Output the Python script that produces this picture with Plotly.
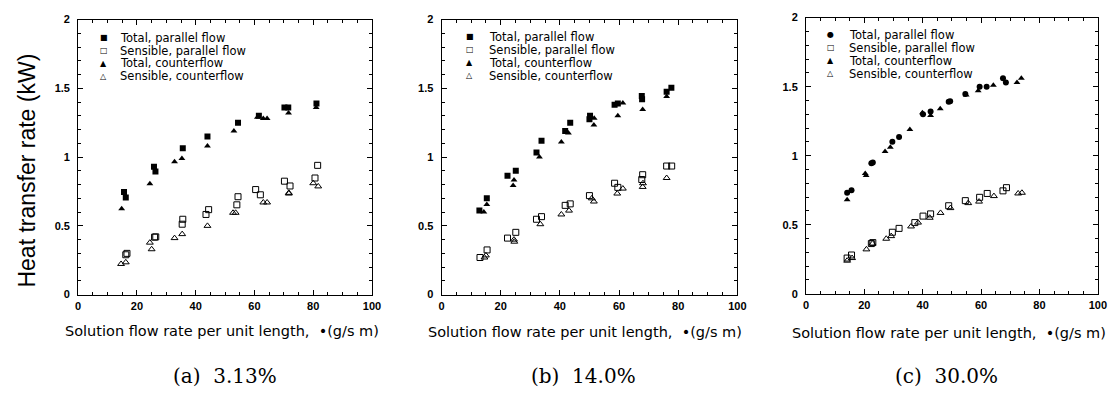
import plotly.graph_objects as go

W, H = 1118, 394

# ---------------- data ----------------
# (a) 3.13%
a_tp_x = [15.6, 16.2, 25.8, 26.3, 35.6, 44.0, 54.4, 61.5, 70.2, 71.5, 81.1]
a_tp_y = [0.747, 0.707, 0.93, 0.895, 1.065, 1.15, 1.25, 1.30, 1.36, 1.36, 1.39]
a_sp_x = [16.2, 16.6, 26.0, 26.4, 35.4, 35.6, 43.5, 44.4, 54.0, 54.4, 60.4, 62.0, 70.2, 72.1, 80.6, 81.5]
a_sp_y = [0.29, 0.30, 0.418, 0.42, 0.512, 0.548, 0.583, 0.618, 0.653, 0.712, 0.764, 0.726, 0.825, 0.79, 0.848, 0.94]
a_tc_x = [14.8, 24.4, 32.8, 35.3, 44.0, 53.0, 61.0, 63.0, 64.3, 71.6, 81.0]
a_tc_y = [0.625, 0.806, 0.966, 0.99, 1.08, 1.19, 1.29, 1.28, 1.28, 1.32, 1.36]
a_sc_x = [14.6, 16.2, 24.4, 25.0, 32.8, 35.4, 44.0, 52.7, 53.6, 63.0, 64.3, 71.7, 71.7, 80.0, 81.7]
a_sc_y = [0.223, 0.235, 0.378, 0.33, 0.411, 0.44, 0.50, 0.595, 0.595, 0.67, 0.67, 0.735, 0.74, 0.81, 0.787]

# (b) 14.0%
b_tp_x = [12.8, 15.3, 22.3, 25.1, 32.1, 33.8, 41.8, 43.5, 50.2, 50.0, 58.5, 59.6, 67.7, 67.8, 76.1, 77.7]
b_tp_y = [0.611, 0.70, 0.865, 0.90, 1.034, 1.119, 1.19, 1.25, 1.30, 1.276, 1.38, 1.39, 1.445, 1.42, 1.476, 1.504]
b_sp_x = [13.0, 15.4, 22.3, 25.1, 32.1, 33.8, 41.8, 43.5, 50.0, 58.5, 59.6, 68.0, 67.7, 76.1, 77.8]
b_sp_y = [0.27, 0.325, 0.411, 0.453, 0.548, 0.567, 0.649, 0.66, 0.72, 0.81, 0.78, 0.872, 0.837, 0.935, 0.935]
b_tc_x = [14.3, 15.3, 24.2, 24.5, 33.1, 40.5, 42.9, 51.5, 51.6, 59.6, 61.3, 68.0, 76.1]
b_tc_y = [0.60, 0.655, 0.794, 0.834, 1.00, 1.11, 1.175, 1.234, 1.283, 1.30, 1.394, 1.347, 1.44]
b_sc_x = [14.5, 15.0, 24.5, 24.6, 33.4, 40.5, 43.1, 51.5, 50.8, 59.4, 61.3, 68.0, 68.1, 76.1]
b_sc_y = [0.27, 0.285, 0.40, 0.385, 0.512, 0.583, 0.611, 0.677, 0.70, 0.735, 0.771, 0.783, 0.81, 0.848]

# (c) 30.0%
c_tp_x = [14.1, 15.6, 22.4, 22.9, 29.6, 31.9, 40.1, 42.7, 48.9, 49.4, 54.6, 59.5, 61.9, 67.5, 68.5]
c_tp_y = [0.731, 0.75, 0.944, 0.95, 1.10, 1.135, 1.30, 1.32, 1.39, 1.395, 1.447, 1.50, 1.50, 1.56, 1.53]
c_sp_x = [14.1, 15.6, 22.4, 22.9, 29.6, 31.9, 37.3, 40.1, 42.7, 48.9, 54.6, 59.5, 62.1, 67.5, 68.7]
c_sp_y = [0.258, 0.28, 0.363, 0.37, 0.445, 0.473, 0.515, 0.562, 0.578, 0.637, 0.674, 0.698, 0.726, 0.745, 0.768]
c_tc_x = [14.1, 20.3, 20.6, 27.1, 28.9, 35.6, 39.9, 42.7, 46.0, 54.9, 59.0, 64.2, 72.3, 73.8]
c_tc_y = [0.68, 0.87, 0.857, 1.03, 1.06, 1.19, 1.31, 1.29, 1.34, 1.44, 1.47, 1.51, 1.53, 1.56]
c_sc_x = [14.1, 15.8, 20.7, 22.8, 27.5, 29.2, 36.0, 38.4, 42.4, 46.1, 49.5, 55.6, 59.3, 64.4, 72.7, 74.0]
c_sc_y = [0.239, 0.258, 0.321, 0.363, 0.398, 0.417, 0.487, 0.515, 0.55, 0.585, 0.62, 0.656, 0.667, 0.707, 0.726, 0.731]

series_names = ["Total, parallel flow", "Sensible, parallel flow",
                "Total, counterflow", "Sensible, counterflow"]
captions = ["(a)  3.13%", "(b)  14.0%", "(c)  30.0%"]
x_title = "Solution flow rate per unit length,  \u2022(g/s m)"
y_title = "Heat transfer rate (kW)"
x_ticks = [0, 20, 40, 60, 80, 100]
y_ticks = [0, 0.5, 1, 1.5, 2]
y_ticktext = ["0", "0.5", "1", "1.5", "2"]

panels = [
    (a_tp_x, a_tp_y, a_sp_x, a_sp_y, a_tc_x, a_tc_y, a_sc_x, a_sc_y),
    (b_tp_x, b_tp_y, b_sp_x, b_sp_y, b_tc_x, b_tc_y, b_sc_x, b_sc_y),
    (c_tp_x, c_tp_y, c_sp_x, c_sp_y, c_tc_x, c_tc_y, c_sc_x, c_sc_y),
]

# ---------------- layout geometry (pixels) ----------------
x_px = [(76, 373), (443.3, 742.3), (811.7, 1106.7)]
y_px = [(14, 297.7), (14, 297.7), (12, 296.7)]
tp_symbol = ["square", "square", "circle"]
tp_glyph = ["\u25A0", "\u25A0", "\u25CF"]
ROW = 13.4
legend_pos = [(102, 116, 32.5), (471.7, 489, 31.5), (836.7, 852.7, 29.5)]
xtitle_pos = [(221, 335), (588, 336), (956, 337)]
caption_pos = [(224, 382), (587, 382), (954, 382)]

def px(x):
    return x / W

def py(y):
    return 1 - y / H

fig = go.Figure()
annotations = []

for i, p in enumerate(panels):
    xs = "x" if i == 0 else f"x{i+1}"
    ys = "y" if i == 0 else f"y{i+1}"
    tpx, tpy, spx, spy, tcx, tcy, scx, scy = p
    specs = [
        (tpx, tpy, dict(symbol=tp_symbol[i], size=6, color="black")),
        (spx, spy, dict(symbol="square-open", size=6, color="black", line=dict(width=1))),
        (tcx, tcy, dict(symbol="triangle-up", size=6, color="black")),
        (scx, scy, dict(symbol="triangle-up-open", size=6, color="black", line=dict(width=1))),
    ]
    for (xx, yy, mk), name in zip(specs, series_names):
        fig.add_trace(go.Scatter(x=xx, y=yy, mode="markers", marker=mk, name=name,
                                 xaxis=xs, yaxis=ys, showlegend=False))

    axkey = "xaxis" if i == 0 else f"xaxis{i+1}"
    aykey = "yaxis" if i == 0 else f"yaxis{i+1}"
    common = dict(showline=True, linecolor="black", linewidth=1, mirror="allticks",
                  ticks="inside", ticklen=5, tickwidth=1, tickcolor="black",
                  showgrid=False, zeroline=False,
                  tickfont=dict(family="Liberation Sans, Arial", size=11, color="black", weight="bold"))
    fig.layout[axkey] = dict(domain=[px(x_px[i][0]), px(x_px[i][1])], range=[0, 100],
                             anchor=ys, tickvals=x_ticks, ticklabelstandoff=1,
                             minor=dict(dtick=5, tick0=0, ticks="inside", ticklen=3, tickcolor="black", showgrid=False),
                             **common)
    fig.layout[aykey] = dict(domain=[py(y_px[i][1]), py(y_px[i][0])], range=[0, 2],
                             anchor=xs, tickvals=y_ticks, ticktext=y_ticktext, ticklabelstandoff=5,
                             minor=dict(dtick=0.1, tick0=0, ticks="inside", ticklen=3, tickcolor="black", showgrid=False),
                             **common)

    gx, tx, top = legend_pos[i]
    glyphs = [tp_glyph[i], "\u25A1", "\u25B2", "\u25B3"]
    for k, (g, name) in enumerate(zip(glyphs, series_names)):
        ry = top + k * ROW
        annotations.append(dict(x=px(gx), y=py(ry), xref="paper", yref="paper", text=g,
                                showarrow=False, xanchor="center", yanchor="middle",
                                font=dict(family="DejaVu Sans", size=8, color="black")))
        annotations.append(dict(x=px(tx), y=py(ry), xref="paper", yref="paper", text=name,
                                showarrow=False, xanchor="left", yanchor="middle",
                                font=dict(family="DejaVu Sans", size=11.5, color="black")))

    annotations.append(dict(x=px(xtitle_pos[i][0]), y=py(xtitle_pos[i][1]), xref="paper", yref="paper",
                            text=x_title, showarrow=False, xanchor="center", yanchor="middle",
                            font=dict(family="DejaVu Sans", size=14.5, color="black")))
    annotations.append(dict(x=px(caption_pos[i][0]), y=py(caption_pos[i][1]), xref="paper", yref="paper",
                            text=captions[i], showarrow=False, xanchor="center", yanchor="middle",
                            font=dict(family="DejaVu Serif", size=20, color="black")))

annotations.append(dict(x=px(24), y=py(170), xref="paper", yref="paper", text=y_title,
                        showarrow=False, textangle=-90, xanchor="center", yanchor="middle",
                        font=dict(family="Liberation Sans, Arial", size=23, color="black")))

fig.update_layout(width=W, height=H, margin=dict(l=0, r=0, t=0, b=0),
                  paper_bgcolor="white", plot_bgcolor="white",
                  annotations=annotations, showlegend=False)

fig.write_html("out.html")
